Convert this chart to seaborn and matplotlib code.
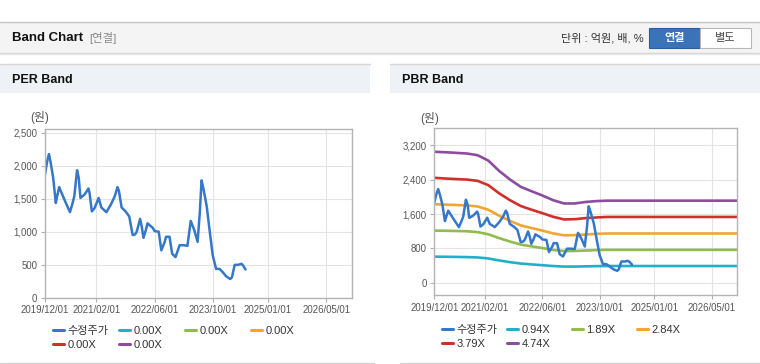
import pandas as pd
import seaborn as sns
import matplotlib.pyplot as plt
import matplotlib.dates as mdates
from matplotlib.ticker import StrMethodFormatter
from matplotlib.lines import Line2D
from matplotlib.patches import Rectangle

# 수정주가 (adjusted price)
price_dates = ["2019-12-01", "2019-12-20", "2020-01-03", "2020-01-17", "2020-02-07", "2020-02-29",
               "2020-03-08", "2020-03-28", "2020-04-11", "2020-05-23", "2020-06-26", "2020-07-18",
               "2020-08-01", "2020-08-24", "2020-09-07", "2020-09-21", "2020-10-25", "2020-11-27",
               "2020-12-06", "2020-12-25", "2021-01-17", "2021-02-20", "2021-03-14", "2021-04-25",
               "2021-06-01", "2021-07-04", "2021-07-27", "2021-08-07", "2021-08-30", "2021-10-02",
               "2021-11-02", "2021-11-30", "2021-12-20", "2022-01-03", "2022-01-31", "2022-02-14",
               "2022-02-28", "2022-03-20", "2022-04-03", "2022-04-25", "2022-05-15", "2022-06-01",
               "2022-07-05", "2022-07-27", "2022-08-24", "2022-09-04", "2022-10-03", "2022-10-25",
               "2022-11-22", "2022-12-26", "2023-02-01", "2023-03-01", "2023-03-29", "2023-04-27",
               "2023-05-25", "2023-06-13", "2023-06-27", "2023-07-11", "2023-08-09", "2023-08-31",
               "2023-09-28", "2023-10-26", "2023-11-23", "2023-12-21", "2024-01-18", "2024-02-21",
               "2024-03-06", "2024-03-29", "2024-04-26", "2024-05-24", "2024-06-07", "2024-06-27"]
price = [1872, 2077, 2179, 2051, 1820, 1436, 1513, 1677, 1615, 1436, 1297, 1436,
         1538, 1933, 1820, 1513, 1564, 1656, 1590, 1308, 1359, 1513, 1369, 1297,
         1410, 1538, 1677, 1626, 1369, 1308, 1231, 949, 959, 1000, 1195, 1077,
         908, 1026, 1128, 1092, 1062, 1010, 1000, 718, 846, 923, 923, 667,
         615, 795, 795, 785, 1164, 1026, 846, 1308, 1779, 1667, 1385, 1051,
         641, 436, 436, 385, 323, 282, 308, 497, 497, 513, 487, 426]

# PBR band lines
band_dates = ["2019-12-01", "2020-04-01", "2020-09-01", "2020-12-01", "2021-03-01", "2021-06-01",
              "2021-09-01", "2021-12-01", "2022-03-01", "2022-06-01", "2022-09-01", "2022-12-01",
              "2023-03-01", "2023-06-01", "2023-09-01", "2023-12-01", "2026-12-01"]
pbr_094 = [610, 607, 600, 592, 568, 522, 482, 450, 430, 412, 392, 380, 380, 385, 390, 393, 393]
pbr_189 = [1215, 1210, 1200, 1180, 1130, 1040, 960, 890, 850, 810, 765, 740, 742, 752, 762, 768, 768]
pbr_284 = [1828, 1815, 1800, 1775, 1700, 1560, 1440, 1335, 1275, 1215, 1150, 1105, 1110, 1125, 1140, 1148, 1148]
pbr_379 = [2440, 2420, 2400, 2370, 2270, 2080, 1920, 1785, 1700, 1620, 1535, 1475, 1480, 1505, 1520, 1532, 1532]
pbr_474 = [3045, 3030, 3005, 2965, 2840, 2600, 2400, 2230, 2130, 2030, 1920, 1845, 1845, 1880, 1900, 1910, 1910]

band_labels = ["0.94X", "1.89X", "2.84X", "3.79X", "4.74X"]
per_labels = ["0.00X", "0.00X", "0.00X", "0.00X", "0.00X"]
band_colors = ["#1fb2c6", "#8fbb4f", "#f3a531", "#d0302a", "#8c4d9e"]
price_color = "#3577c8"

x_ticks = ["2019-12-01", "2021-02-01", "2022-06-01", "2023-10-01", "2025-01-01", "2026-05-01"]
x_range = ["2019-12-01", "2026-12-01"]

df_price = pd.DataFrame({"date": pd.to_datetime(price_dates), "price": price})
df_band = pd.DataFrame({"date": pd.to_datetime(band_dates),
                        "0.94X": pbr_094, "1.89X": pbr_189, "2.84X": pbr_284,
                        "3.79X": pbr_379, "4.74X": pbr_474})

sns.set_theme(style="white")
plt.rcParams["font.family"] = ["Liberation Sans", "Noto Sans CJK KR", "DejaVu Sans"]

fig = plt.figure(figsize=(7.6, 3.64), dpi=100)


def fx(px):
    return px / 760


def fy(py):
    return 1 - py / 364


def hline(y, x0, x1, color):
    fig.add_artist(Line2D([fx(x0), fx(x1)], [fy(y), fy(y)], color=color, lw=1,
                          transform=fig.transFigure))


# top header strip
fig.add_artist(Rectangle((0, fy(53)), 1, 31 / 364, transform=fig.transFigure,
                         fc="#f4f4f4", ec="none"))
hline(22, 0, 760, "#c4c4c4")
hline(53, 0, 760, "#d4d4d4")
hline(54, 0, 760, "#e8e8e8")
fig.text(fx(12), fy(38), "Band Chart", fontsize=9.5, fontweight="bold", color="#111111", va="center")
fig.text(fx(89), fy(38), "[연결]", fontsize=8.2, color="#888888", va="center")
fig.text(fx(644), fy(38), "단위 : 억원, 배, %", fontsize=8, color="#333333", va="center", ha="right")
fig.add_artist(Rectangle((fx(649), fy(48)), fx(51), 20 / 364, transform=fig.transFigure,
                         fc="#3a73b8", ec="#2c5e9c", lw=0.8))
fig.add_artist(Rectangle((fx(700), fy(48)), fx(51), 20 / 364, transform=fig.transFigure,
                         fc="white", ec="#b8b8b8", lw=0.8))
fig.text(fx(674.5), fy(38), "연결", fontsize=8, fontweight="bold", color="white", va="center", ha="center")
fig.text(fx(725.5), fy(38), "별도", fontsize=8, color="#444444", va="center", ha="center")

# panel headers
for x0, x1, title in [(0, 370, "PER Band"), (390, 760, "PBR Band")]:
    fig.add_artist(Rectangle((fx(x0), fy(93)), fx(x1 - x0), 29 / 364, transform=fig.transFigure,
                             fc="#eef1f6", ec="none"))
    hline(64, x0, x1, "#d6d6d6")
    hline(362.5, x0 + (10 if x0 else 0), x1 if x0 else 374, "#d6d6d6")
    fig.text(fx(x0 + 12), fy(80), title, fontsize=9, fontweight="bold", color="#111111", va="center")

ax_per = fig.add_axes([fx(45), fy(297.6), fx(307), 168.9 / 364])
ax_pbr = fig.add_axes([fx(434.3), fy(295), fx(302.7), 166.7 / 364])

sns.lineplot(data=df_price, x="date", y="price", ax=ax_per, color=price_color, lw=1.8)

for lab, col in zip(band_labels, band_colors):
    sns.lineplot(data=df_band, x="date", y=lab, ax=ax_pbr, color=col, lw=1.9)
sns.lineplot(data=df_price, x="date", y="price", ax=ax_pbr, color=price_color, lw=1.8)


def style(ax, yticks, ylim):
    ax.set_xlim(pd.to_datetime(x_range))
    ax.set_ylim(ylim)
    ax.set_xticks(pd.to_datetime(x_ticks))
    ax.xaxis.set_major_formatter(mdates.DateFormatter("%Y/%m/%d"))
    ax.set_yticks(yticks)
    ax.yaxis.set_major_formatter(StrMethodFormatter("{x:,.0f}"))
    ax.set_xlabel("")
    ax.set_ylabel("")
    ax.grid(True, color="#e4e4e4", lw=0.8)
    ax.set_axisbelow(True)
    for s in ax.spines.values():
        s.set_color("#b4b4b4")
        s.set_linewidth(1)
    ax.tick_params(bottom=True, left=True, length=3, width=0.8, color="#b0b0b0",
                   labelsize=6.9, labelcolor="#555555", pad=2.5)


style(ax_per, [0, 500, 1000, 1500, 2000, 2500], (0, 2564))
style(ax_pbr, [0, 800, 1600, 2400, 3200], (-280, 3590))

fig.text(fx(40), fy(118), "(원)", fontsize=8.5, color="#555555", va="center", ha="center")
fig.text(fx(430), fy(119), "(원)", fontsize=8.5, color="#555555", va="center", ha="center")


def legend_row(entries, xs, ys):
    for (lab, col), x, y in zip(entries, xs, ys):
        fig.legend([Line2D([], [], color=col, lw=2.2)], [lab], loc="center left",
                   bbox_to_anchor=(fx(x), fy(y)), frameon=False, borderpad=0, borderaxespad=0,
                   handlelength=1.0, handletextpad=0.3, fontsize=8, labelcolor="#333333")


per_entries = [("수정주가", price_color)] + list(zip(per_labels, band_colors))
pbr_entries = [("수정주가", price_color)] + list(zip(band_labels, band_colors))
legend_row(per_entries, [53, 119, 185, 251, 53, 119], [331, 331, 331, 331, 345, 345])
legend_row(pbr_entries, [442, 507, 572, 637, 442, 507], [330, 330, 330, 330, 344, 344])

fig.savefig("out.png", dpi=100)
